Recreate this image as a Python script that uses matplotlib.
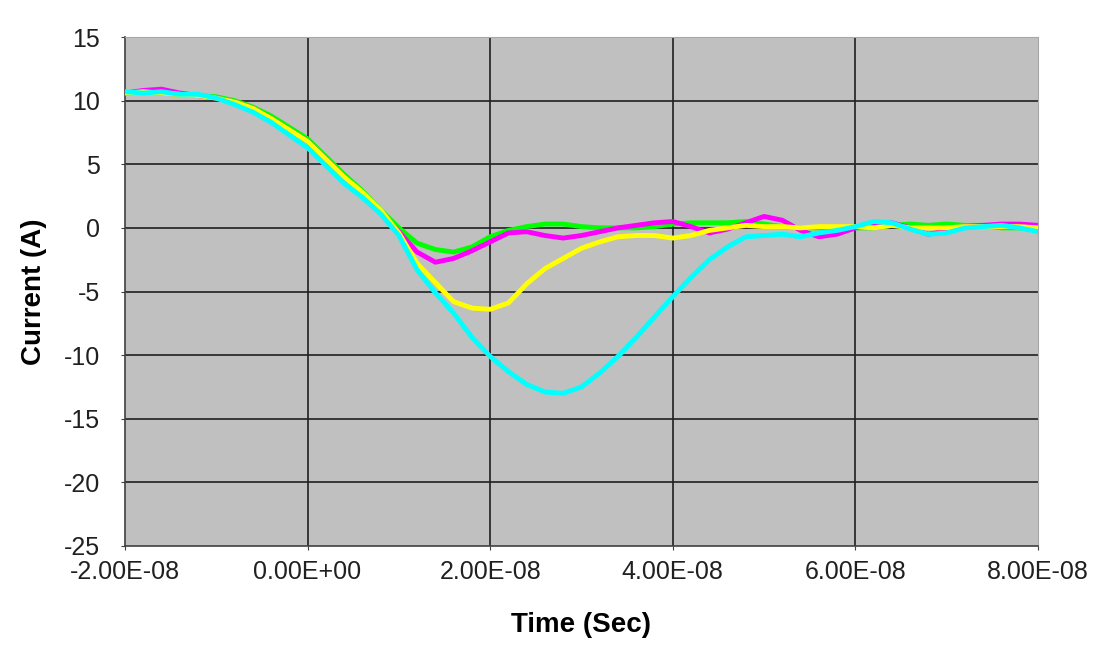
import matplotlib.pyplot as plt
import numpy as np
from matplotlib.ticker import FuncFormatter

plt.rcParams['font.family'] = ['Liberation Sans', 'DejaVu Sans']
plt.rcParams['axes.unicode_minus'] = False

t_ns = [-20, -18, -16, -14, -12, -10, -8, -6, -4, -2, 0, 2, 4, 6, 8, 10, 12, 14, 16, 18,
        20, 22, 24, 26, 28, 30, 32, 34, 36, 38, 40, 42, 44, 46, 48, 50, 52, 54, 56, 58,
        60, 62, 64, 66, 68, 70, 72, 74, 76, 78, 80]

green = [10.6, 10.7, 10.6, 10.5, 10.4, 10.3, 10.0, 9.5, 8.8, 7.9, 7.0, 5.6, 4.2, 2.9, 1.4, 0.0,
         -1.2, -1.7, -1.9, -1.5, -0.7, -0.2, 0.1, 0.3, 0.3, 0.1, 0.0, 0.0, 0.0, 0.1, 0.3, 0.4,
         0.4, 0.4, 0.5, 0.3, 0.1, 0.0, 0.0, 0.0, 0.0, 0.0, 0.2, 0.3, 0.2, 0.3, 0.2, 0.2, 0.0,
         0.0, -0.2]

magenta = [10.6, 10.8, 10.9, 10.6, 10.4, 10.2, 9.9, 9.4, 8.6, 7.7, 6.8, 5.4, 4.0, 2.6, 1.2, -0.3,
           -1.9, -2.7, -2.4, -1.8, -1.1, -0.4, -0.3, -0.6, -0.8, -0.6, -0.3, 0.0, 0.2, 0.4, 0.5,
           0.1, -0.4, -0.1, 0.4, 0.9, 0.6, -0.2, -0.7, -0.5, 0.0, 0.3, 0.4, 0.0, -0.5, -0.2, 0.1,
           0.2, 0.3, 0.3, 0.2]

yellow = [10.6, 10.7, 10.6, 10.5, 10.4, 10.2, 9.9, 9.4, 8.6, 7.7, 6.8, 5.4, 4.0, 2.8, 1.4, -0.4,
          -2.8, -4.3, -5.8, -6.3, -6.4, -5.9, -4.4, -3.2, -2.4, -1.6, -1.1, -0.7, -0.6, -0.6, -0.8,
          -0.6, -0.2, 0.0, 0.2, 0.1, 0.1, 0.0, 0.1, 0.1, 0.1, 0.0, 0.2, 0.0, 0.0, 0.0, 0.1, 0.1,
          0.1, 0.1, 0.0]

cyan = [10.7, 10.6, 10.7, 10.5, 10.5, 10.2, 9.7, 9.1, 8.3, 7.3, 6.3, 4.9, 3.5, 2.4, 1.1, -0.6,
        -3.3, -5.1, -6.7, -8.6, -10.1, -11.3, -12.3, -12.9, -13.0, -12.5, -11.4, -10.1, -8.6,
        -7.0, -5.4, -3.9, -2.5, -1.5, -0.7, -0.6, -0.5, -0.7, -0.4, -0.2, 0.1, 0.5, 0.4, -0.1,
        -0.5, -0.4, 0.0, 0.1, 0.2, 0.0, -0.3]

t = np.array(t_ns) * 1e-9

fig = plt.figure(figsize=(10.97, 6.46), dpi=100)
ax = fig.add_axes([0.1139, 0.1548, 0.8323, 0.7879])
ax.set_facecolor('#C0C0C0')

for vals, col in [(green, '#00FF00'), (magenta, '#FF00FF'), (yellow, '#FFFF00'), (cyan, '#00FFFF')]:
    ax.plot(t, vals, color=col, lw=3.5, zorder=3, solid_joinstyle='round')

ax.set_xlim(-2e-8, 8e-8)
ax.set_ylim(-25, 15)
ax.set_xticks(np.arange(-2e-8, 8.1e-8, 2e-8))
ax.set_yticks(np.arange(-25, 16, 5))
ax.xaxis.set_major_formatter(FuncFormatter(lambda v, p: '%.2E' % (0.0 if abs(v) < 1e-12 else v)))

# grid lines inside the plot only
for x in [0, 2e-8, 4e-8, 6e-8]:
    ax.axvline(x, color='#202020', lw=1.2, zorder=1)
for y in [10, 5, 0, -5, -10, -15, -20]:
    ax.axhline(y, color='#202020', lw=1.2, zorder=1)

for s in ['top', 'right']:
    ax.spines[s].set_color('#A8A8A8')
for s in ['left', 'bottom']:
    ax.spines[s].set_color('#404040')
    ax.spines[s].set_linewidth(1.2)

ax.tick_params(axis='both', labelsize=18, length=3, color='#404040', labelcolor='#202020')
ax.tick_params(axis='y', pad=15)
ax.tick_params(axis='x', pad=7)
ax.set_xlabel('Time (Sec)', fontsize=20, fontweight='bold', labelpad=20)
ax.set_ylabel('Current (A)', fontsize=20, fontweight='bold', labelpad=12)

fig.savefig('out.png', dpi=100)
